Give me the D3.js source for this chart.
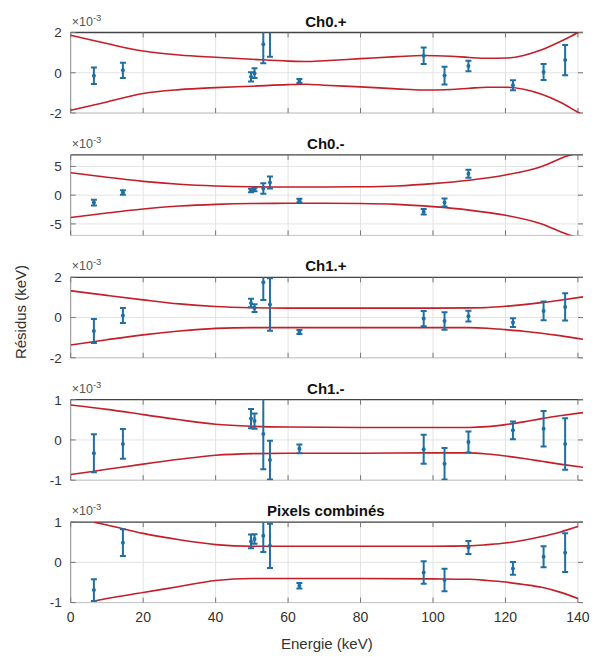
<!DOCTYPE html>
<html><head><meta charset="utf-8">
<script src="https://cdn.jsdelivr.net/npm/d3@7/dist/d3.min.js"></script>
<style>body{margin:0;background:#fff} text{font-family:"Liberation Sans",Arial,Helvetica,sans-serif}</style>
</head><body><svg id="c" width="600" height="657"></svg>
<script>
// ---- data (residuals in units of 1e-3 keV) ----
const energies = [6.4, 14.41, 49.77, 50.74, 53.16, 55.0, 63.12, 97.43, 103.18, 109.78, 122.06, 130.52, 136.47];
const titles = ["Ch0.+", "Ch0.-", "Ch1.+", "Ch1.-", "Pixels combinés"];
const yLimits = [2, 7, 2, 1, 1];
const yTicks = [[-2, 0, 2], [-5, 0, 5], [-2, 0, 2], [-1, 0, 1], [-1, 0, 1]];
const xTicks = [0, 20, 40, 60, 80, 100, 120, 140];

const resCh0p = [-0.15, 0.12, -0.2, -0.02, 1.41, 2.2, -0.41, 0.84, -0.14, 0.34, -0.62, 0.04, 0.63];
const errCh0p = [0.41, 0.38, 0.23, 0.24, 0.94, 1.4, 0.1, 0.41, 0.44, 0.26, 0.25, 0.4, 0.75];
const resCh0m = [-1.28, 0.47, 0.81, 1.0, 1.16, 2.2, -0.93, -2.9, -1.28, 3.72, null, null, null];
const errCh0m = [0.5, 0.4, 0.3, 0.3, 0.9, 1.05, 0.3, 0.47, 0.7, 0.7, null, null, null];
const resCh1p = [-0.67, 0.1, 0.72, 0.47, 1.75, 0.65, -0.72, -0.05, -0.17, 0.07, -0.25, 0.33, 0.53];
const errCh1p = [0.6, 0.37, 0.21, 0.19, 0.88, 1.3, 0.1, 0.38, 0.43, 0.27, 0.22, 0.47, 0.68];
const resCh1m = [-0.33, -0.1, 0.53, 0.47, 0.15, -0.5, -0.22, -0.23, -0.59, -0.05, 0.24, 0.28, -0.1];
const errCh1m = [0.47, 0.37, 0.24, 0.19, 0.88, 0.48, 0.11, 0.36, 0.39, 0.26, 0.22, 0.44, 0.64];
const resComb = [-0.69, 0.49, 0.52, 0.58, 0.66, 0.41, -0.58, -0.25, -0.44, 0.37, -0.15, 0.14, 0.24];
const errComb = [0.27, 0.33, 0.17, 0.12, 0.4, 0.55, 0.07, 0.28, 0.28, 0.16, 0.16, 0.26, 0.48];

// confidence band curves
const bandX_Ch0p = [0, 10, 20, 30, 40, 50, 60, 65, 70, 80, 90, 97, 105, 110, 115, 120, 125, 130, 135, 140, 141.4];
const bandUp_Ch0p = [1.86, 1.45, 1.08, 0.88, 0.77, 0.67, 0.58, 0.56, 0.6, 0.7, 0.8, 0.86, 0.82, 0.76, 0.72, 0.73, 0.86, 1.14, 1.54, 2.0, 2.15];
const bandLo_Ch0p = [-1.86, -1.45, -1.03, -0.84, -0.74, -0.67, -0.59, -0.57, -0.62, -0.7, -0.8, -0.86, -0.83, -0.77, -0.72, -0.72, -0.82, -1.07, -1.45, -1.96, -2.1];
const bandX_Ch0m = [0, 10, 20, 30, 40, 50, 60, 70, 80, 90, 100, 110, 120, 130, 137, 141.4];
const bandUp_Ch0m = [3.9, 3.1, 2.4, 1.9, 1.6, 1.45, 1.42, 1.42, 1.45, 1.6, 2.0, 2.6, 3.5, 5.0, 6.8, 7.6];
const bandLo_Ch0m = [-3.9, -3.1, -2.4, -1.9, -1.6, -1.45, -1.42, -1.42, -1.45, -1.6, -2.0, -2.6, -3.5, -5.0, -6.8, -7.6];
const bandX_Ch1 = [0, 10, 20, 30, 40, 50, 60, 80, 100, 110, 115, 120, 125, 130, 135, 141.4];
const bandUp_Ch1p = [1.33, 1.1, 0.88, 0.68, 0.55, 0.49, 0.47, 0.47, 0.47, 0.48, 0.5, 0.56, 0.64, 0.74, 0.86, 1.03];
const bandLo_Ch1p = [-1.36, -1.1, -0.86, -0.67, -0.54, -0.5, -0.5, -0.5, -0.5, -0.5, -0.53, -0.6, -0.68, -0.78, -0.9, -1.08];
const bandUp_Ch1m = [0.87, 0.76, 0.63, 0.5, 0.39, 0.34, 0.32, 0.31, 0.31, 0.31, 0.33, 0.38, 0.45, 0.53, 0.6, 0.68];
const bandLo_Ch1m = [-0.86, -0.73, -0.6, -0.48, -0.38, -0.34, -0.33, -0.33, -0.32, -0.32, -0.35, -0.4, -0.46, -0.53, -0.6, -0.68];
const bandX_Comb = [6.4, 10, 20, 30, 40, 50, 60, 80, 100, 110, 115, 120, 125, 130, 135, 140];
const bandUp_Comb = [1.0, 0.93, 0.72, 0.56, 0.44, 0.4, 0.4, 0.4, 0.4, 0.41, 0.44, 0.48, 0.55, 0.64, 0.75, 0.89];
const bandLo_Comb = [-0.96, -0.9, -0.75, -0.6, -0.45, -0.4, -0.4, -0.4, -0.41, -0.42, -0.45, -0.49, -0.55, -0.62, -0.74, -0.9];

const panels = [
  {res: resCh0p, err: errCh0p, bx: bandX_Ch0p, up: bandUp_Ch0p, lo: bandLo_Ch0p},
  {res: resCh0m, err: errCh0m, bx: bandX_Ch0m, up: bandUp_Ch0m, lo: bandLo_Ch0m},
  {res: resCh1p, err: errCh1p, bx: bandX_Ch1, up: bandUp_Ch1p, lo: bandLo_Ch1p},
  {res: resCh1m, err: errCh1m, bx: bandX_Ch1, up: bandUp_Ch1m, lo: bandLo_Ch1m},
  {res: resComb, err: errComb, bx: bandX_Comb, up: bandUp_Comb, lo: bandLo_Comb}
];

// ---- layout ----
const svg = d3.select("#c");
const left = 70.7, right = 583, top0 = 32.5, step = 122.4, ph = 80.5;
const x = d3.scaleLinear().domain([0, 141.4]).range([left, right]);
const blue = "#1f6fa3", red = "#c41e28", gridC = "#e3e3e3", tickC = "#777";

panels.forEach((p, i) => {
  const t = top0 + step * i, b = t + ph;
  const L = yLimits[i];
  const y = d3.scaleLinear().domain([-L, L]).range([b, t]);
  const g = svg.append("g");
  const cid = "clip" + i;
  svg.append("clipPath").attr("id", cid).append("rect")
    .attr("x", left).attr("y", t).attr("width", right - left).attr("height", ph);

  // grid
  g.selectAll(".gx").data(xTicks.filter(v => v > 0)).join("line")
    .attr("x1", d => x(d)).attr("x2", d => x(d)).attr("y1", t).attr("y2", b)
    .attr("stroke", gridC).attr("stroke-width", 1);
  g.selectAll(".gy").data(yTicks[i]).join("line")
    .attr("x1", left).attr("x2", right).attr("y1", d => y(d)).attr("y2", d => y(d))
    .attr("stroke", gridC).attr("stroke-width", 1);

  // axes frame
  g.append("line").attr("x1", left).attr("x2", right).attr("y1", b).attr("y2", b).attr("stroke", "#c4c4c4");
  g.append("line").attr("x1", left).attr("x2", left).attr("y1", t).attr("y2", b).attr("stroke", "#8a8a8a");
  g.append("line").attr("x1", left).attr("x2", right).attr("y1", t).attr("y2", t).attr("stroke", "#444").attr("stroke-width", 1.3);

  // ticks
  g.selectAll(".tl").data(yTicks[i]).join("line")
    .attr("x1", left).attr("x2", left + 5).attr("y1", d => y(d)).attr("y2", d => y(d)).attr("stroke", tickC);
  g.selectAll(".tr").data(yTicks[i]).join("line")
    .attr("x1", right - 5).attr("x2", right).attr("y1", d => y(d)).attr("y2", d => y(d)).attr("stroke", tickC);
  g.selectAll(".tb").data(xTicks).join("line")
    .attr("x1", d => x(d)).attr("x2", d => x(d)).attr("y1", b).attr("y2", b - 5).attr("stroke", tickC);
  g.selectAll(".tt").data(xTicks).join("line")
    .attr("x1", d => x(d)).attr("x2", d => x(d)).attr("y1", t).attr("y2", t + 5).attr("stroke", tickC);

  // y tick labels
  g.selectAll(".yl").data(yTicks[i]).join("text")
    .attr("x", left - 9).attr("y", d => y(d)).attr("dy", "0.36em")
    .attr("text-anchor", "end").attr("font-size", 13.5).attr("fill", "#333")
    .text(d => d);

  // exponent label
  const ex = g.append("text").attr("x", left + 1).attr("y", t - 7).attr("font-size", 12.5).attr("fill", "#555");
  ex.append("tspan").text("×10");
  ex.append("tspan").attr("dy", -5).attr("font-size", 9.5).text("-3");

  // title
  g.append("text").attr("x", (left + right) / 2 - 1).attr("y", t - 6)
    .attr("text-anchor", "middle").attr("font-size", 15).attr("font-weight", "bold").attr("fill", "#111")
    .text(titles[i]);

  const inner = g.append("g").attr("clip-path", `url(#${cid})`);

  // bands
  const line = d3.line().x(d => x(d[0])).y(d => y(d[1])).curve(d3.curveMonotoneX);
  [p.up, p.lo].forEach(arr => {
    inner.append("path").datum(p.bx.map((v, k) => [v, arr[k]]))
      .attr("d", line).attr("fill", "none").attr("stroke", red).attr("stroke-width", 1.6);
  });

  // error bars
  const pts = energies.map((e, k) => ({e, v: p.res[k], s: p.err[k]})).filter(d => d.v != null);
  const eb = inner.selectAll(".eb").data(pts).join("g").attr("stroke", blue).attr("stroke-width", 2);
  eb.append("line").attr("x1", d => x(d.e)).attr("x2", d => x(d.e))
    .attr("y1", d => y(d.v - d.s)).attr("y2", d => y(d.v + d.s));
  eb.append("line").attr("x1", d => x(d.e) - 3).attr("x2", d => x(d.e) + 3)
    .attr("y1", d => y(d.v - d.s)).attr("y2", d => y(d.v - d.s));
  eb.append("line").attr("x1", d => x(d.e) - 3).attr("x2", d => x(d.e) + 3)
    .attr("y1", d => y(d.v + d.s)).attr("y2", d => y(d.v + d.s));
  inner.selectAll(".pt").data(pts).join("circle")
    .attr("cx", d => x(d.e)).attr("cy", d => y(d.v)).attr("r", 2).attr("fill", blue);

  // x tick labels on last panel
  if (i === panels.length - 1) {
    g.selectAll(".xl").data(xTicks).join("text")
      .attr("x", d => x(d)).attr("y", b + 19)
      .attr("text-anchor", "middle").attr("font-size", 14).attr("fill", "#333")
      .text(d => d);
    g.append("text").attr("x", (left + right) / 2).attr("y", b + 46)
      .attr("text-anchor", "middle").attr("font-size", 15).attr("fill", "#333").text("Energie (keV)");
  }
});

svg.append("text").attr("transform", "translate(26,312) rotate(-90)")
  .attr("text-anchor", "middle").attr("font-size", 15).attr("fill", "#333").text("Résidus (keV)");
</script></body></html>
